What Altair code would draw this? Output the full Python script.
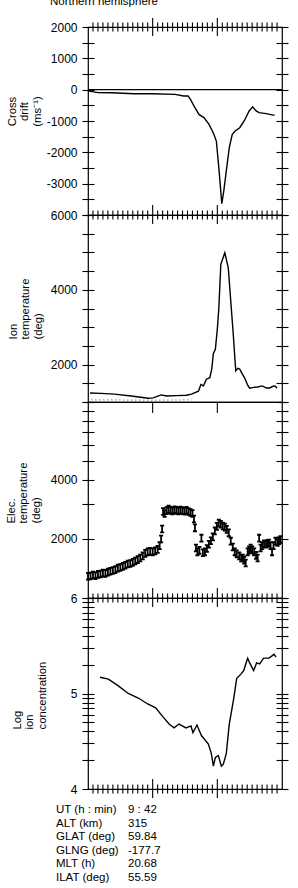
import altair as alt
import pandas as pd
import math

FONT = "Liberation Sans"

# ---------------- data ----------------
title_text = ["Northern hemisphere"]

# Cross drift (m/s)
cd_u = [0, 2.0, 4.7, 9.3, 12.8, 17.5, 19.2, 20.1, 20.6, 21.3, 22.3, 23.3, 24.3, 25.0, 25.3, 25.8,
        26.3, 26.9, 27.3, 27.8, 28.4, 29.0, 29.6, 30.5, 31.4, 32.4, 33.1, 33.8, 34.4, 35.8, 37.5]
cd_v = [-40, -95, -100, -130, -130, -150, -200, -200, -310, -520, -790, -890, -1100, -1320, -1425, -1640,
        -2490, -3640, -3230, -2595, -1850, -1425, -1320, -1215, -1000, -680, -550, -680, -735, -765, -820]
zero_line = [0]

# Ion temperature (deg)
ion_u = [0.4, 2.6, 5.3, 8.7, 12.1, 13.1, 14.7, 15.8, 17.8, 19.8, 20.8, 22.2, 22.7, 23.2, 23.8,
         24.5, 24.9, 25.2, 25.6, 26.0, 26.3, 26.7, 27.5, 28.2, 28.7, 29.2, 29.7, 30.1, 30.5, 30.9,
         31.5, 32.1, 32.5, 33.3, 34.1, 35.0, 35.8, 36.4, 37.2, 37.6, 38.0]
ion_T = [1240, 1230, 1210, 1160, 1100, 1110, 1190, 1160, 1170, 1180, 1210, 1290, 1470, 1430, 1610,
         1650, 1900, 2300, 2400, 2950, 3500, 4680, 4990, 4590, 3700, 2810, 1830, 1900, 1880, 1780,
         1640, 1450, 1370, 1390, 1400, 1430, 1380, 1370, 1420, 1430, 1370]
ion_dot_u = [0.6, 10.0, 20.8]
ion_dot_T = [1060, 1050, 1055]

# Electron temperature (deg)
el_u = [0.0, 0.5, 1.0, 1.5, 2.0, 2.5, 3.0, 3.5, 4.0, 4.5, 5.0, 5.5, 6.0, 6.5, 7.0, 7.5, 8.0, 8.5,
        9.0, 9.5, 10.0, 10.5, 11.0, 11.5, 12.0, 12.5, 13.0, 13.5, 14.0, 14.4, 14.7, 14.9, 15.1, 15.4,
        15.8, 16.2, 16.6, 17.0, 17.4, 17.8, 18.2, 18.6, 19.0, 19.4, 19.8, 20.2, 20.6, 21.0, 21.3,
        21.5, 21.7, 22.0, 22.4, 22.8, 23.1, 23.5, 23.9, 24.3, 24.7, 25.1, 25.5, 25.9, 26.3, 26.7,
        27.1, 27.5, 27.9, 28.3, 28.7, 29.1, 29.5, 29.9, 30.4, 30.8, 31.1, 31.4, 31.7, 32.1, 32.4,
        32.7, 33.0, 33.4, 33.8, 34.1, 34.4, 34.7, 35.0, 35.4, 35.8, 36.1, 36.4, 36.7, 37.0, 37.3,
        37.7, 38.1, 38.4, 38.7]
el_T = [1290, 1295, 1310, 1300, 1320, 1325, 1340, 1335, 1355, 1370, 1380, 1395, 1420, 1430, 1450,
        1470, 1490, 1500, 1520, 1545, 1570, 1600, 1640, 1690, 1720, 1730, 1720, 1740, 1770, 1850,
        2000, 2250, 2760, 2700, 2790, 2840, 2800, 2780, 2820, 2800, 2780, 2810, 2790, 2770, 2800,
        2760, 2730, 2700, 2530, 2280, 1800, 1720, 1750, 2020, 1700, 1720, 1790, 1880, 1960, 2050,
        2200, 2320, 2410, 2380, 2330, 2300, 2240, 2150, 1950, 1820, 1720, 1680, 1640, 1600, 1600,
        1560, 1510, 1720, 1760, 1800, 1760, 1720, 1650, 1600, 2020, 1800, 1850, 1890, 1880, 1900,
        1910, 1850, 1720, 1850, 1950, 1920, 1960, 1990]

# Log ion concentration
conc_u = [2.4, 4.1, 6.1, 8.1, 10.2, 12.0, 13.6, 15.0, 16.3, 17.3, 18.3, 19.7, 20.7, 21.1, 21.9,
          22.8, 24.2, 24.8, 25.2, 25.6, 26.2, 26.8, 27.2, 27.8, 28.4, 29.3, 29.9, 30.7, 31.3, 32.1,
          32.5, 33.3, 33.9, 34.5, 35.3, 36.4, 37.4, 37.8]
conc_L = [5.17, 5.15, 5.08, 5.00, 4.95, 4.89, 4.85, 4.76, 4.68, 4.64, 4.68, 4.64, 4.66, 4.59, 4.67,
          4.56, 4.47, 4.37, 4.24, 4.33, 4.35, 4.24, 4.26, 4.37, 4.68, 4.95, 5.16, 5.20, 5.24, 5.37,
          5.32, 5.24, 5.32, 5.31, 5.37, 5.37, 5.41, 5.38]

# Orbit info
info_labels = ["UT (h : min)", "ALT (km)", "GLAT (deg)", "GLNG (deg)", "MLT (h)", "ILAT (deg)"]
info_values = ["9 : 42", "315", "59.84", "-177.7", "20.68", "55.59"]

# tick values
x_minor = [i for i in range(1, 39) if i not in (13, 26)]
x_major = [13, 26]
cd_ticks = list(range(-4000, 2001, 500))
ion_ticks = list(range(1000, 6001, 500))
el_ticks = list(range(1000, 10001, 1000))
conc_ticks = [round(d + math.log10(k), 4) for d in (4, 5) for k in range(1, 10)] + [6]

# ---------------- layout ----------------
W = 194
H1, H2, H3, H4 = 188, 187, 196, 191

x_enc = alt.X("u:Q", scale=alt.Scale(domain=[0, 39], nice=False, zero=False), axis=None)
minor_df = pd.DataFrame({"u": x_minor})
major_df = pd.DataFrame({"u": x_major})


def rules(df, y1, y2):
    return alt.Chart(df).mark_rule(color="black", strokeWidth=1.1).encode(
        x=x_enc, y=alt.value(y1), y2=alt.value(y2))


def xticks(H, top=False, bottom="full"):
    layers = []
    if top:
        layers += [rules(minor_df, -4.5, 4.5), rules(major_df, -9, 9)]
    if bottom == "full":
        layers += [rules(minor_df, H - 4.5, H + 4.5), rules(major_df, H - 10, H + 9)]
    elif bottom == "major_down":
        layers += [rules(major_df, H, H + 11)]
    return layers


def left_axis(values, label_expr, title, tx, ty, talign):
    return alt.Axis(orient="left", values=values, labelExpr=label_expr, tickSize=12, offset=-6,
                    domain=False, grid=False, tickColor="black", tickWidth=1.1,
                    labelFont=FONT, labelFontSize=12, labelColor="black", labelPadding=5,
                    labelOverlap=False, title=title, titleX=tx, titleY=ty, titleAngle=270,
                    titleAlign=talign, titleBaseline="bottom", titleFont=FONT,
                    titleFontSize=11.3, titleFontWeight="normal", titleColor="black",
                    titleLineHeight=12.5)


def right_axis(values):
    return alt.Axis(orient="right", values=values, labels=False, tickSize=12, offset=-6,
                    domain=False, grid=False, tickColor="black", tickWidth=1.1, title=None)


# Panel 1: cross drift
cd_df = pd.DataFrame({"u": cd_u, "v": cd_v})
s1 = alt.Scale(domain=[-4000, 2000], nice=False, zero=False)
p1 = alt.layer(
    alt.Chart(pd.DataFrame({"v": zero_line})).mark_rule(color="black", strokeWidth=1.1).encode(
        y=alt.Y("v:Q", scale=s1, axis=None)),
    alt.Chart(cd_df).mark_line(color="black", strokeWidth=1.4).encode(
        x=x_enc, y=alt.Y("v:Q", scale=s1, axis=left_axis(
            cd_ticks, "datum.value % 1000 == 0 && datum.value > -4000 ? toString(datum.value) : ''",
            ["Cross", "drift", "(ms⁻¹)"], -77, 84, "center"))),
    alt.Chart(cd_df).mark_line(opacity=0).encode(
        x=x_enc, y=alt.Y("v:Q", scale=s1, axis=right_axis(cd_ticks))),
    *xticks(H1, top=True, bottom="full"),
).resolve_axis(y="independent").properties(width=W, height=H1)

# Panel 2: ion temperature
ion_df = pd.DataFrame({"u": ion_u, "v": ion_T})
iond_df = pd.DataFrame({"u": ion_dot_u, "v": ion_dot_T})
s2 = alt.Scale(domain=[1000, 6000], nice=False, zero=False)
p2 = alt.layer(
    alt.Chart(iond_df).mark_line(color="#999999", strokeWidth=1.2, strokeDash=[1.5, 2.5]).encode(
        x=x_enc, y=alt.Y("v:Q", scale=s2, axis=None)),
    alt.Chart(ion_df).mark_line(color="black", strokeWidth=1.4).encode(
        x=x_enc, y=alt.Y("v:Q", scale=s2, axis=left_axis(
            ion_ticks, "datum.value % 2000 == 0 ? toString(datum.value) : ''",
            ["Ion", "temperature", "(deg)"], -76, 124, "left"))),
    alt.Chart(ion_df).mark_line(opacity=0).encode(
        x=x_enc, y=alt.Y("v:Q", scale=s2, axis=right_axis(ion_ticks))),
    *xticks(H2, top=False, bottom="major_down"),
).resolve_axis(y="independent").properties(width=W, height=H2)

# Panel 3: electron temperature (log)
el_df = pd.DataFrame({"u": el_u, "v": el_T})
s3 = alt.Scale(type="log", domain=[1000, 10000], nice=False)
ibeam = "M0,-1V1M-0.6,-1H0.6M-0.6,1H0.6"
p3 = alt.layer(
    alt.Chart(el_df).mark_point(shape=ibeam, size=46, filled=False, color="black",
                                strokeWidth=1.8, opacity=1).encode(
        x=x_enc, y=alt.Y("v:Q", scale=s3, axis=left_axis(
            el_ticks, "datum.value == 2000 || datum.value == 4000 ? toString(datum.value) : ''",
            ["Elec.", "temperature", "(deg)"], -78, 121, "left"))),
    alt.Chart(el_df).mark_point(opacity=0).encode(
        x=x_enc, y=alt.Y("v:Q", scale=s3, axis=right_axis(el_ticks))),
    *xticks(H3, top=False, bottom="full"),
).resolve_axis(y="independent").properties(width=W, height=H3)

# Panel 4: log ion concentration
conc_df = pd.DataFrame({"u": conc_u, "v": conc_L})
s4 = alt.Scale(domain=[4, 6], nice=False, zero=False)
p4 = alt.layer(
    alt.Chart(conc_df).mark_line(color="black", strokeWidth=1.4).encode(
        x=x_enc, y=alt.Y("v:Q", scale=s4, axis=left_axis(
            conc_ticks, "datum.value == 4 || datum.value == 5 || datum.value == 6 ? toString(datum.value) : ''",
            ["Log", "ion", "concentration"], -72, 131, "left"))),
    alt.Chart(conc_df).mark_line(opacity=0).encode(
        x=x_enc, y=alt.Y("v:Q", scale=s4, axis=right_axis(conc_ticks))),
    *xticks(H4, top=False, bottom="full"),
).resolve_axis(y="independent").properties(width=W, height=H4)

# Top title panel
top = alt.Chart(pd.DataFrame({"t": title_text})).mark_text(
    font=FONT, fontSize=11.5, align="center", baseline="alphabetic", color="black").encode(
    text="t:N", x=alt.value(16), y=alt.value(11)).properties(
    width=W, height=33, view=alt.ViewBackground(stroke="transparent"))

# Info panel
info_df = pd.DataFrame({"row": list(range(len(info_labels))), "label": info_labels, "value": info_values})
yinfo = alt.Y("row:Q", scale=alt.Scale(domain=[0, 5], range=[21, 89]), axis=None)
info = alt.layer(
    alt.Chart(info_df).mark_text(align="left", baseline="middle", font=FONT, fontSize=11.5,
                                 color="black").encode(x=alt.value(-32), y=yinfo, text="label:N"),
    alt.Chart(info_df).mark_text(align="left", baseline="middle", font=FONT, fontSize=11.5,
                                 color="black").encode(x=alt.value(40), y=yinfo, text="value:N"),
).properties(width=W, height=100, view=alt.ViewBackground(stroke="transparent"))

chart = alt.vconcat(top, p1, p2, p3, p4, info, spacing=0, bounds="flush").properties(
    padding={"left": 4, "top": -7, "right": 0, "bottom": 0}
).configure_view(stroke="black", strokeWidth=1.2)

chart.save("out.html", embed_options={"renderer": "svg", "actions": False})
